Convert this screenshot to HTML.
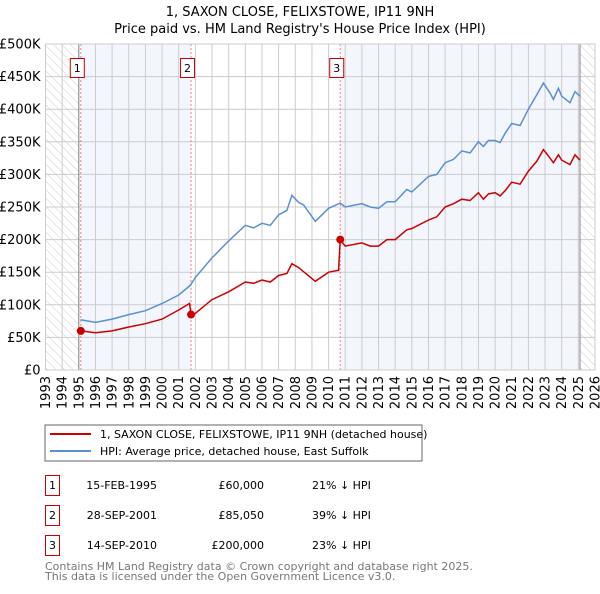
<!DOCTYPE html>
<html><head><meta charset="utf-8"><style>
body{margin:0;background:#fff;font-family:"DejaVu Sans","Liberation Sans",sans-serif;}
svg text{font-family:"DejaVu Sans","Liberation Sans",sans-serif;}
</style></head><body>
<svg id="c" width="600" height="590" viewBox="0 0 600 590">
<defs><pattern id="hatch" width="6" height="6" patternUnits="userSpaceOnUse" patternTransform="rotate(-45)"><line x1="0" y1="0" x2="0" y2="6" stroke="#ccc" stroke-width="1"/></pattern></defs>
<text x="300" y="16" text-anchor="middle" font-size="13">1, SAXON CLOSE, FELIXSTOWE, IP11 9NH</text>
<text x="300" y="33" text-anchor="middle" font-size="13">Price paid vs. HM Land Registry's House Price Index (HPI)</text>
<g id="plot"></g>
<rect x="45" y="425" width="377" height="36" fill="#fff" stroke="#666"/>
<line x1="50" y1="434" x2="91" y2="434" stroke="#cc0000" stroke-width="2"/>
<text x="100" y="438" font-size="11">1, SAXON CLOSE, FELIXSTOWE, IP11 9NH (detached house)</text>
<line x1="50" y1="451" x2="91" y2="451" stroke="#5b8fd4" stroke-width="2"/>
<text x="100" y="455" font-size="11">HPI: Average price, detached house, East Suffolk</text>
<g font-size="11">
<rect x="45.5" y="475.5" width="14" height="20" fill="none" stroke="#cc0000"/><text x="52.5" y="489" text-anchor="middle">1</text>
<text x="157" y="489" text-anchor="end">15-FEB-1995</text><text x="264" y="489" text-anchor="end">£60,000</text><text x="312" y="489">21% ↓ HPI</text>
<rect x="45.5" y="505.5" width="14" height="20" fill="none" stroke="#cc0000"/><text x="52.5" y="519" text-anchor="middle">2</text>
<text x="157" y="519" text-anchor="end">28-SEP-2001</text><text x="264" y="519" text-anchor="end">£85,050</text><text x="312" y="519">39% ↓ HPI</text>
<rect x="45.5" y="535.5" width="14" height="20" fill="none" stroke="#cc0000"/><text x="52.5" y="549" text-anchor="middle">3</text>
<text x="157" y="549" text-anchor="end">14-SEP-2010</text><text x="264" y="549" text-anchor="end">£200,000</text><text x="312" y="549">23% ↓ HPI</text>
</g>
<text x="45" y="570" font-size="11" fill="#777">Contains HM Land Registry data © Crown copyright and database right 2025.</text>
<text x="45" y="580" font-size="11" fill="#777">This data is licensed under the Open Government Licence v3.0.</text>
</svg>
<script>
const years=[1993,1994,1995,1996,1997,1998,1999,2000,2001,2002,2003,2004,2005,2006,2007,2008,2009,2010,2011,2012,2013,2014,2015,2016,2017,2018,2019,2020,2021,2022,2023,2024,2025,2026];
const yTicks=[0,50,100,150,200,250,300,350,400,450,500];
const yTickLabels=["£0","£50K","£100K","£150K","£200K","£250K","£300K","£350K","£400K","£450K","£500K"];
const hpiT=[1995.1,1996,1997,1998,1999,2000,2001,2001.7,2002,2003,2004,2005,2005.5,2006,2006.5,2007,2007.5,2007.8,2008.2,2008.5,2009.2,2010,2010.7,2011,2012,2012.5,2013,2013.5,2014,2014.7,2015,2016,2016.5,2017,2017.5,2018,2018.5,2019,2019.3,2019.6,2020,2020.3,2020.6,2021,2021.5,2022,2022.5,2022.9,2023.3,2023.5,2023.8,2024,2024.5,2024.8,2025.1];
const hpiV=[77,73,78,85,91,102,115,130,142,172,198,222,218,225,222,238,245,268,257,253,228,248,256,250,255,250,248,258,258,277,273,297,300,318,323,336,333,350,343,352,352,349,363,378,375,400,422,440,425,415,432,420,410,427,420];
const priceT=[1995.1,1996,1997,1998,1999,2000,2001,2001.65,2001.75,2002,2003,2004,2005,2005.5,2006,2006.5,2007,2007.5,2007.8,2008.2,2009.2,2010,2010.6,2010.7,2011,2012,2012.5,2013,2013.5,2014,2014.7,2015,2016,2016.5,2017,2017.5,2018,2018.5,2019,2019.3,2019.6,2020,2020.3,2020.6,2021,2021.5,2022,2022.5,2022.9,2023.3,2023.5,2023.8,2024,2024.5,2024.8,2025.1];
const priceV=[60,57,60,66,71,78,92,102,85,87,108,120,135,133,138,135,145,148,163,157,136,150,153,200,190,195,190,190,200,200,215,217,230,235,250,255,262,260,272,262,270,272,267,275,288,285,305,320,338,325,318,330,322,315,330,322];
const saleT=[1995.12,2001.74,2010.7];
const saleV=[60,85.05,200];
const saleLabels=["1","2","3"];
const NS="http://www.w3.org/2000/svg";
const L=45.5,R=595,T=44,B=370;
const X=t=>L+(t-1993)/(2026-1993)*(R-L);
const Y=v=>B-v/500*(B-T);
const g=document.getElementById('plot');
function mk(tag,a){const e=document.createElementNS(NS,tag);for(const k in a)e.setAttribute(k,a[k]);g.appendChild(e);return e;}
let e;
e=mk('rect',{x:L,y:T,width:R-L,height:B-T,fill:'#fff'});


e=mk('rect',{x:X(saleT[0]),y:T,width:X(saleT[1])-X(saleT[0]),height:B-T,fill:'#f3f6fd'});


e=mk('rect',{x:X(saleT[2]),y:T,width:X(2025.1)-X(saleT[2]),height:B-T,fill:'#f3f6fd'});


e=mk('rect',{x:L,y:T,width:X(1995)-L,height:B-T,fill:'url(#hatch)'});


e=mk('rect',{x:X(2025.1),y:T,width:R-X(2025.1),height:B-T,fill:'url(#hatch)'});


years.forEach(y=>{
 e=mk('line',{x1:X(y),x2:X(y),y1:T,y2:B,stroke:'#ccc'});
 
 
 const tx=mk('text',{x:0,y:0,'font-size':13,'text-anchor':'end',transform:`translate(${X(y)+4.5},${B+6}) rotate(-90)`});
 tx.textContent=y;
 
 
});
yTicks.forEach((v,i)=>{
 e=mk('line',{x1:L,x2:R,y1:Y(v),y2:Y(v),stroke:'#ccc'});
 
 
 const tx=mk('text',{x:L-5,y:Y(v)+4.5,'font-size':13,'text-anchor':'end'});
 tx.textContent=yTickLabels[i];
 
 
});
e=mk('line',{x1:X(1995),x2:X(1995),y1:T,y2:B,stroke:'#888'});


e=mk('line',{x1:X(2025.1),x2:X(2025.1),y1:T,y2:B,stroke:'#888'});


saleT.forEach((t,i)=>{
 e=mk('line',{x1:X(t),x2:X(t),y1:T,y2:B,stroke:'#f08080','stroke-dasharray':'2,2'});
 
 
});
const pts=(ts,vs)=>ts.map((t,i)=>X(t).toFixed(1)+','+Y(vs[i]).toFixed(1)).join(' ');
e=mk('polyline',{points:pts(hpiT,hpiV),fill:'none',stroke:'#5b8fd4','stroke-width':1.5});


e=mk('polyline',{points:pts(priceT,priceV),fill:'none',stroke:'#cc0000','stroke-width':1.5});


saleT.forEach((t,i)=>{
 e=mk('circle',{cx:X(t),cy:Y(saleV[i]),r:4,fill:'#cc0000'});
 
 
 e=mk('rect',{x:X(t)-10.5,y:58.5,width:14,height:19,fill:'#fff',stroke:'#cc0000'});
 
 
 const tx=mk('text',{x:X(t)-3.5,y:72,'font-size':11,'text-anchor':'middle'});
 tx.textContent=saleLabels[i];
 
 
});
e=mk('rect',{x:L,y:T,width:R-L,height:B-T,fill:'none',stroke:'#ccc'});


</script>
</body></html>
